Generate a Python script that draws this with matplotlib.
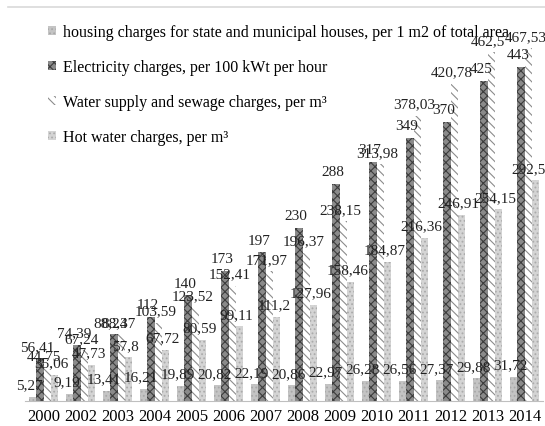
import numpy as np
import matplotlib.pyplot as plt
from matplotlib.lines import Line2D

years = ['2000', '2002', '2003', '2004', '2005', '2006', '2007',
         '2008', '2009', '2010', '2011', '2012', '2013', '2014']
housing = [5.27, 9.19, 13.41, 16.21, 19.89, 20.82, 22.19,
           20.86, 22.97, 26.28, 26.56, 27.37, 29.88, 31.72]
electricity = [56.41, 74.39, 88.24, 112, 140, 173, 197,
               230, 288, 317, 349, 370, 425, 443]
water = [44.75, 67.24, 88.37, 103.59, 123.52, 152.41, 171.97,
         196.37, 238.15, 313.98, 378.03, 420.78, 462.5, 467.53]
hot_water = [35.06, 47.73, 57.8, 67.72, 80.59, 99.11, 111.2,
             127.96, 158.46, 184.87, 216.36, 246.91, 254.15, 292.59]

labels = ['housing charges for state and municipal houses, per 1 m2 of total area',
          'Electricity charges, per 100 kWt per hour',
          'Water supply and sewage charges, per m\u00b3',
          'Hot water charges, per m\u00b3']

plt.rcParams['font.family'] = ['Liberation Serif', 'DejaVu Serif']
plt.rcParams['hatch.linewidth'] = 0.8

fig = plt.figure(figsize=[5.45, 4.27], dpi=100)
ax = fig.add_axes([25/545, 25/427, 518/545, 377/427])

x = np.arange(len(years))
w = 0.2
series = [housing, electricity, water, hot_water]
styles = [
    dict(color='#c4c4c4', hatch='....', edgecolor='#a8a8a8'),
    dict(color='#8a8a8a', hatch='xxxx', edgecolor='#3c3c3c'),
    dict(color='white', hatch='\\\\\\\\', edgecolor='#8c8c8c'),
    dict(color='#d4d4d4', hatch='....', edgecolor='#ababab'),
]

handles = []
for i, (vals, st) in enumerate(zip(series, styles)):
    pos = x + (i - 1.5) * w
    bars = ax.bar(pos, vals, w, color=st['color'], hatch=st['hatch'],
                  edgecolor=st['edgecolor'], linewidth=0)
    handles.append(bars)
    for p, v in zip(pos, vals):
        txt = ('%g' % v).replace('.', ',')
        ax.annotate(txt, (p, v), xytext=(-2, 4), textcoords='offset points',
                    ha='center', va='bottom', fontsize=11, color='#222222')

ax.set_xlim(-0.5, len(years) - 0.5)
ax.set_ylim(0, 500)
ax.set_xticks(x)
ax.set_xticklabels(years, fontsize=12)
ax.tick_params(axis='x', length=0, pad=5)
ax.set_yticks([])
for s in ['top', 'right', 'left']:
    ax.spines[s].set_visible(False)
ax.spines['bottom'].set_color('#bfbfbf')

leg = ax.legend(handles, labels, loc='upper left', bbox_to_anchor=(0.045, 1.0),
                frameon=False, fontsize=11.5, handlelength=0.5, handleheight=0.5,
                handletextpad=0.4, labelspacing=1.2, borderaxespad=0, borderpad=0)
leg.set_zorder(0)

fig.add_artist(Line2D([8/545, 1], [1 - 7.5/427, 1 - 7.5/427],
                      color='#d9d9d9', linewidth=1.2))

fig.savefig('out.png', dpi=100)
